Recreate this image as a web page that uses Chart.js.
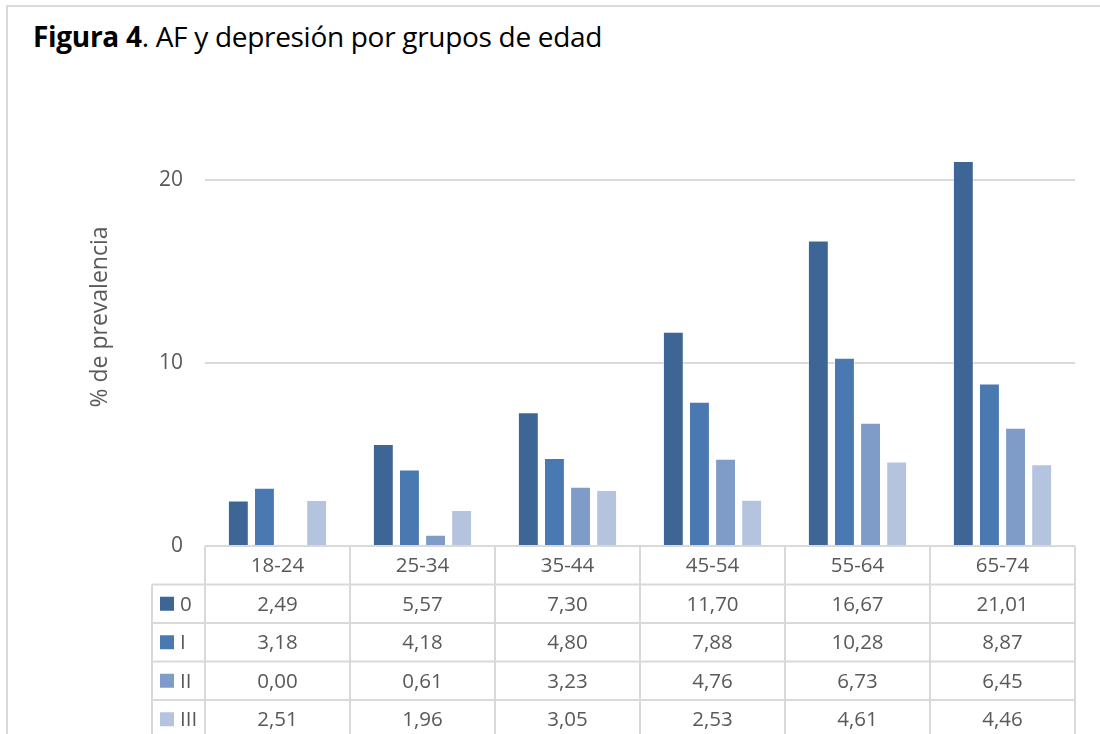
<!DOCTYPE html>
<html>
<head>
<meta charset="utf-8">
<script src="https://cdn.jsdelivr.net/npm/chart.js@4/dist/chart.umd.min.js"></script>
<style>
    html, body { margin: 0; padding: 0; background: #fff; }
    #wrap { position: relative; width: 1100px; height: 734px; overflow: hidden; }
    #frame { position: absolute; left: 6px; top: 5px; width: 1200px; height: 800px; border: 2px solid #d9d9d9; box-sizing: border-box; }
    #title { position: absolute; left: 33px; top: 17px; font-family: 'Open Sans', sans-serif; font-size: 28px; color: #000; letter-spacing: -0.3px; }
    canvas { position: absolute; left: 0; top: 0; }
</style>
</head>
<body>
<div id="wrap">
    <div id="frame"></div>
    <div id="title"><b>Figura 4</b>. AF y depresión por grupos de edad</div>
    <canvas id="chart" width="1100" height="734"></canvas>
</div>
<script>
const categories = ['18-24', '25-34', '35-44', '45-54', '55-64', '65-74'];
const seriesNames = ['0', 'I', 'II', 'III'];
const series0 = [2.49, 5.57, 7.30, 11.70, 16.67, 21.01];
const seriesI = [3.18, 4.18, 4.80, 7.88, 10.28, 8.87];
const seriesII = [0.00, 0.61, 3.23, 4.76, 6.73, 6.45];
const seriesIII = [2.51, 1.96, 3.05, 2.53, 4.61, 4.46];
const yTicks = [0, 10, 20];

const colors = ['#3d6696', '#4a78b1', '#7f9cc8', '#b4c3de'];
const allSeries = [series0, seriesI, seriesII, seriesIII];

const font = "'Open Sans', sans-serif";
const textGrey = '#595959';
const lineGrey = '#d9d9d9';

// Data table drawn under the plot, aligned to the x scale
const tablePlugin = {
    id: 'dataTable',
    afterDraw(chart) {
        const ctx = chart.ctx;
        const x = chart.scales.x;
        const area = chart.chartArea;
        const rowH = 38.5;
        const top = area.bottom;
        const legendLeft = 152;
        const half = (x.getPixelForTick(1) - x.getPixelForTick(0)) / 2;
        const nRows = allSeries.length + 1;

        ctx.save();
        ctx.strokeStyle = lineGrey;
        ctx.lineWidth = 2;

        // horizontal lines
        ctx.beginPath();
        ctx.moveTo(area.left, top);
        ctx.lineTo(area.right, top);
        for (let r = 1; r <= nRows; r++) {
            ctx.moveTo(legendLeft, top + r * rowH);
            ctx.lineTo(area.right, top + r * rowH);
        }
        // vertical lines
        ctx.moveTo(legendLeft, top + rowH);
        ctx.lineTo(legendLeft, top + nRows * rowH + 5);
        for (let i = 0; i <= categories.length; i++) {
            const px = x.getPixelForTick(0) - half + i * 2 * half;
            ctx.moveTo(px, top);
            ctx.lineTo(px, top + nRows * rowH + 5);
        }
        ctx.stroke();

        ctx.font = '20.5px ' + font;
        ctx.fillStyle = textGrey;
        ctx.textAlign = 'center';
        ctx.textBaseline = 'middle';
        categories.forEach((c, i) => {
            ctx.fillText(c, x.getPixelForTick(i), top + rowH / 2 + 1);
        });
        allSeries.forEach((vals, r) => {
            const cy = top + (r + 1.5) * rowH;
            vals.forEach((v, i) => {
                ctx.fillText(v.toFixed(2).replace('.', ','), x.getPixelForTick(i), cy + 1);
            });
            ctx.fillStyle = colors[r];
            ctx.fillRect(160, cy - 7, 14, 14);
            ctx.fillStyle = textGrey;
            ctx.textAlign = 'left';
            ctx.fillText(seriesNames[r], 180, cy + 1);
            ctx.textAlign = 'center';
        });
        ctx.restore();
    }
};

const ctx = document.getElementById('chart').getContext('2d');
const chart = new Chart(ctx, {
    type: 'bar',
    data: {
        labels: categories,
        datasets: allSeries.map((vals, i) => ({
            label: seriesNames[i],
            data: vals,
            backgroundColor: colors[i],
            borderColor: 'rgba(255,255,255,0.6)',
            borderWidth: 1,
            barPercentage: 0.8,
            categoryPercentage: 0.72
        }))
    },
    options: {
        responsive: false,
        animation: false,
        layout: {
            padding: { top: 88, right: 25, bottom: 188, left: 87 }
        },
        plugins: {
            legend: { display: false },
            tooltip: { enabled: false }
        },
        scales: {
            x: {
                display: false
            },
            y: {
                min: 0,
                max: 25,
                afterFit(scale) { scale.width = 118; },
                afterBuildTicks(scale) {
                    scale.ticks = yTicks.map(v => ({ value: v }));
                },
                border: { display: false },
                grid: {
                    color: lineGrey,
                    lineWidth: 2,
                    drawTicks: false
                },
                ticks: {
                    padding: 22,
                    color: textGrey,
                    font: { family: font, size: 21 }
                },
                title: {
                    display: true,
                    text: '% de prevalencia',
                    color: textGrey,
                    padding: 0,
                    font: { family: font, size: 23 }
                }
            }
        }
    },
    plugins: [tablePlugin]
});
</script>
</body>
</html>
